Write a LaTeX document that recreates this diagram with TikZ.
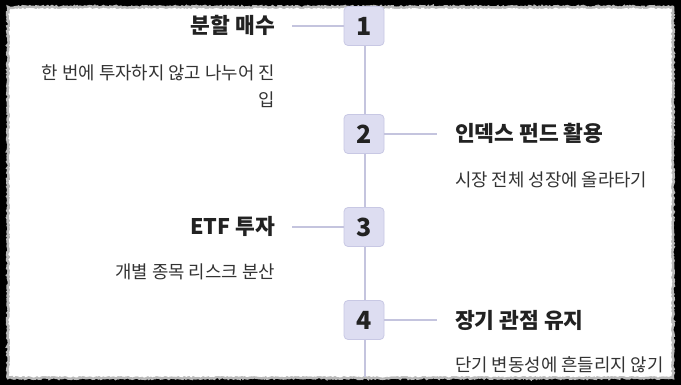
\documentclass[tikz,border=0pt]{standalone}
\usepackage{fontspec}
\setmainfont{Noto Sans CJK KR}
\newfontfamily\kr{Noto Sans CJK KR}
\usetikzlibrary{decorations.pathmorphing}
\definecolor{linecol}{HTML}{C4C4DE}
\definecolor{boxfill}{HTML}{DDDDF1}
\definecolor{boxdraw}{HTML}{C8C8E4}
\definecolor{titlecol}{HTML}{222222}
\definecolor{desccol}{HTML}{333333}
\tikzset{
  x=1pt, y=-1pt,
  numbox/.style={draw=boxdraw, fill=boxfill, line width=0.8pt, rounded corners=4pt,
    minimum width=40pt, minimum height=39pt, inner sep=0pt,
    font=\kr\bfseries\fontsize{25}{25}\selectfont, text=titlecol},
  title/.style={inner sep=0pt, font=\kr\bfseries\fontsize{21.5}{21.5}\selectfont, text=titlecol},
  desc/.style={inner sep=0pt, font=\kr\fontsize{17.8}{17.8}\selectfont, text=desccol},
  conn/.style={draw=linecol, line width=1.2pt},
  paper/.style={fill=white, draw=gray!55, line width=2.5pt,
    decorate, decoration={random steps, segment length=1.5pt, amplitude=0.9pt}}
}
\begin{document}
\begin{tikzpicture}
\useasboundingbox (0,0) rectangle (681,385);
\fill[black] (0,0) rectangle (681,385);
\path[paper] (8,7) rectangle (673,378);
\fill[white, rounded corners=6pt] (10,9) rectangle (671,376);

% spine
\coordinate (top) at (365,8);
\coordinate (bot) at (365,377);
\draw[conn] (top) -- (bot);

% boxes
\node[numbox] (b1) at (364,26) {1};
\node[numbox] (b2) at (364,134) {2};
\node[numbox] (b3) at (364,227) {3};
\node[numbox] (b4) at (364,320) {4};

% connector ends
\coordinate (c1) at (292,26);
\coordinate (c2) at (437,134);
\coordinate (c3) at (292,227);
\coordinate (c4) at (437,320);
\draw[conn] (c1) -- (b1.west);
\draw[conn] (b2.east) -- (c2);
\draw[conn] (c3) -- (b3.west);
\draw[conn] (b4.east) -- (c4);

% titles
\node[title, anchor=base east] (t1) at (275,34) {분할 매수};
\node[title, anchor=base west] (t2) at (455,142) {인덱스 펀드 활용};
\node[title, anchor=base east] (t3) at (275,235) {ETF 투자};
\node[title, anchor=base west] (t4) at (455,328) {장기 관점 유지};

% descriptions
\node[desc, anchor=base east] (d1a) at (275,79.5) {한 번에 투자하지 않고 나누어 진};
\node[desc, anchor=base east] (d1b) at (275,106.5) {입};
\node[desc, anchor=base west] (d2) at (455,186.5) {시장 전체 성장에 올라타기};
\node[desc, anchor=base east] (d3) at (275,278.5) {개별 종목 리스크 분산};
\node[desc, anchor=base west] (d4) at (455,371.5) {단기 변동성에 흔들리지 않기};
\end{tikzpicture}
\end{document}
